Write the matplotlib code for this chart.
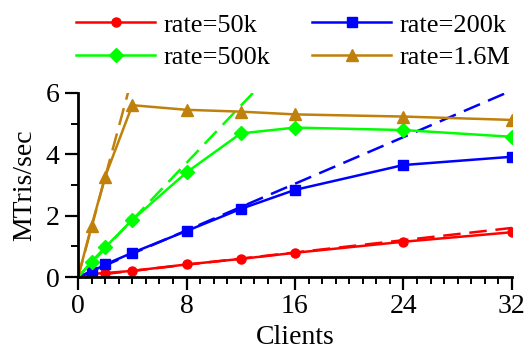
import numpy as np
import matplotlib
matplotlib.use("Agg")
import matplotlib.pyplot as plt
from matplotlib.ticker import MultipleLocator

# Measured throughput per client count
clients = [1, 2, 4, 8, 12, 16, 24, 32]
rate_50k = [0.10, 0.13, 0.20, 0.41, 0.59, 0.79, 1.15, 1.46]
rate_200k = [0.17, 0.41, 0.79, 1.50, 2.22, 2.84, 3.65, 3.92]
rate_500k = [0.50, 0.97, 1.86, 3.41, 4.68, 4.87, 4.79, 4.57]
rate_1600k = [1.67, 3.27, 5.60, 5.45, 5.39, 5.30, 5.23, 5.12]

# Ideal linear scaling (MTris/sec per client)
ideal_slopes = [0.05, 0.19, 0.465, 1.63]

labels = ["rate=50k", "rate=200k", "rate=500k", "rate=1.6M"]
colors = ["#ff0000", "#0000ff", "#00ff00", "#c0800c"]
markers = ["o", "s", "D", "^"]
msizes = [6.5, 7, 7, 8]

plt.rcParams["font.family"] = ["Liberation Serif", "DejaVu Serif"]
plt.rcParams["font.size"] = 20

fig = plt.figure(figsize=(5.31, 3.52), dpi=100)
ax = fig.add_axes([0.147, 0.213, 0.817, 0.523])

series = [rate_50k, rate_200k, rate_500k, rate_1600k]
handles = []
ideal_x = np.array([0, 32])
for vals, slope, lab, c, m, ms in zip(series, ideal_slopes, labels, colors, markers, msizes):
    ax.plot(ideal_x, slope * ideal_x, color=c, lw=1.8, dashes=(7, 3.5))
    h, = ax.plot([0] + clients, [0] + vals, color=c, lw=1.8, marker=m, ms=ms,
                 markevery=list(range(1, len(clients) + 1)), label=lab)
    handles.append(h)

ax.set_xlim(0, 32)
ax.set_ylim(0, 6)
ax.xaxis.set_major_locator(MultipleLocator(8))
ax.xaxis.set_minor_locator(MultipleLocator(1))
ax.yaxis.set_major_locator(MultipleLocator(2))
ax.yaxis.set_minor_locator(MultipleLocator(1))
ax.tick_params(which="major", length=9.5, width=1.6, direction="out", labelsize=20)
ax.tick_params(axis="x", which="major", pad=3)
ax.tick_params(axis="y", which="major", pad=4)
ax.tick_params(which="minor", length=5, width=1.4, direction="out")
for s in ["top", "right"]:
    ax.spines[s].set_visible(False)
for s in ["left", "bottom"]:
    ax.spines[s].set_linewidth(2)

ax.set_xlabel("Clients", labelpad=4)
ax.set_ylabel("MTris/sec", labelpad=6)

# legend rows: 50k / 200k, then 500k / 1.6M
order = [0, 2, 1, 3]
fig.legend(handles=[handles[i] for i in order], loc="upper center",
           bbox_to_anchor=(0.552, 1.03), ncol=2, frameon=False,
           handlelength=3.0, columnspacing=1.6, handletextpad=0.3,
           labelspacing=0.35, fontsize=19)

fig.savefig("out.png", dpi=100)
